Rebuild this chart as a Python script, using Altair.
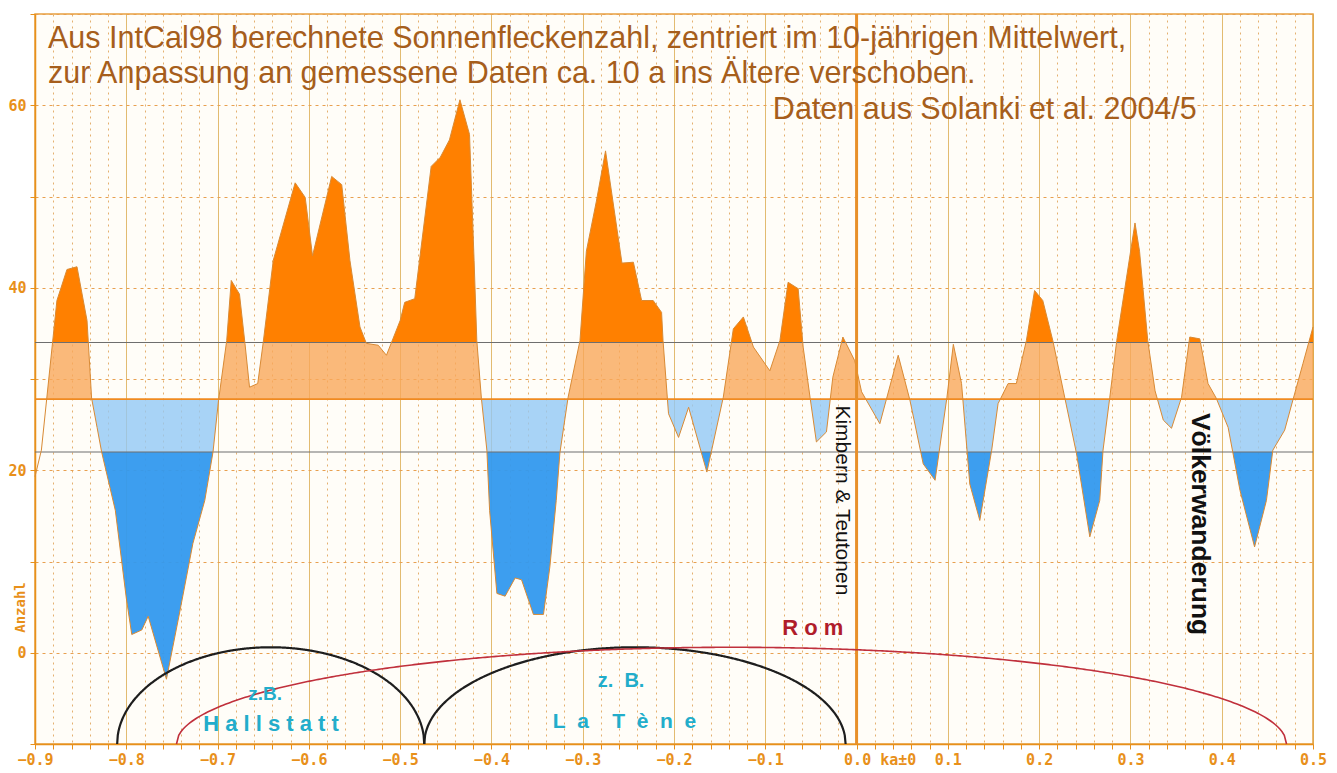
import altair as alt
import pandas as pd

# ---------------- data ----------------
ka = [-0.900, -0.893, -0.876, -0.865, -0.854, -0.843, -0.838, -0.832, -0.827,
      -0.812, -0.800, -0.794, -0.783, -0.776, -0.756, -0.741, -0.727, -0.714, -0.705,
      -0.699, -0.690, -0.685, -0.676, -0.670, -0.665, -0.656, -0.650, -0.639, -0.615,
      -0.604, -0.596, -0.575, -0.564, -0.555, -0.544, -0.537, -0.524, -0.515, -0.500,
      -0.495, -0.484, -0.466, -0.456, -0.446, -0.4345, -0.424, -0.419, -0.416, -0.411,
      -0.405, -0.402, -0.394, -0.385, -0.374, -0.367, -0.354, -0.343, -0.336, -0.329,
      -0.325, -0.316, -0.303, -0.296, -0.285, -0.275, -0.257, -0.2445, -0.2355, -0.2228,
      -0.2136, -0.212, -0.206, -0.195, -0.184, -0.164, -0.146, -0.135, -0.124, -0.113,
      -0.095, -0.084, -0.075, -0.064, -0.0585, -0.051, -0.044, -0.033, -0.026, -0.015,
      -0.002, 0.0055, 0.0255, 0.0456, 0.0584, 0.073, 0.086, 0.099, 0.106, 0.115,
      0.124, 0.135, 0.148, 0.155, 0.166, 0.175, 0.186, 0.195, 0.204, 0.215,
      0.228, 0.241, 0.2555, 0.2664, 0.270, 0.2774, 0.285, 0.305, 0.310, 0.319,
      0.327, 0.336, 0.345, 0.356, 0.365, 0.376, 0.385, 0.394, 0.407, 0.420,
      0.436, 0.449, 0.456, 0.469, 0.478, 0.489, 0.500]
sunspots = [19.3, 22.2, 38.6, 42.0, 42.3, 36.4, 27.9, 24.7, 22.0,
            15.6, 6.0, 2.0, 2.5, 4.0, -2.9, 4.7, 12.0, 16.7, 22.0,
            27.6, 34.2, 40.8, 39.3, 33.9, 29.1, 29.5, 34.0, 43.0, 51.5,
            49.9, 43.5, 52.2, 51.3, 43.0, 35.7, 33.9, 33.7, 32.6, 36.4,
            38.4, 38.8, 53.3, 54.3, 56.2, 60.6, 56.8, 43.0, 34.2, 27.9,
            22.2, 15.6, 6.5, 6.2, 8.2, 8.0, 4.2, 4.2, 9.4, 16.7,
            21.9, 28.0, 34.2, 44.0, 49.5, 55.0, 42.7, 42.8, 38.6, 38.6,
            37.3, 34.2, 26.2, 23.6, 26.9, 19.8, 28.0, 35.5, 36.8, 33.5,
            30.9, 34.2, 40.6, 39.9, 33.5, 28.0, 23.1, 24.2, 30.2, 34.6,
            32.0, 28.6, 25.1, 32.6, 27.7, 20.7, 18.9, 28.0, 33.8, 29.5,
            18.5, 14.5, 22.2, 27.3, 29.5, 29.5, 34.2, 39.7, 38.6, 34.2,
            28.0, 21.8, 12.7, 16.7, 22.2, 28.0, 34.2, 47.1, 44.0, 34.2,
            28.7, 25.5, 24.6, 28.0, 34.6, 34.4, 29.5, 27.9, 24.7, 17.8,
            11.6, 16.7, 22.2, 24.4, 27.7, 31.7, 35.7]

MEAN = 27.8     # orange reference line
UPPER = 34.0    # grey line above
LOWER = 22.0    # grey line below
FILL_START = -0.888   # the coloured fill begins where the curve first reaches the mean

x_ticks = [round(-0.9 + 0.02 * i, 2) for i in range(71)]
y_ticks = list(range(-10, 71, 10))

# periods drawn as arcs: name, start, end, height above the bottom
period_names = ["Hallstatt", "La Tène", "Rom"]
period_start = [-0.810, -0.4736, -0.745]
period_end = [-0.4736, -0.012, 0.471]
period_height = [10.6, 10.6, 10.6]
period_color = ["#1e1e1e", "#1e1e1e", "#c0303c"]
period_width = [2.2, 2.2, 1.6]

title_lines = ["Aus IntCal98 berechnete Sonnenfleckenzahl, zentriert im 10-jährigen Mittelwert,",
               "zur Anpassung an gemessene Daten ca. 10 a ins Ältere verschoben.",
               "Daten aus Solanki et al. 2004/5"]
title_x = [-0.8858, -0.8858, -0.0917]
title_y = [66.3, 62.4, 58.5]

NB = "\u00a0"
cyan_texts = ["z.B.", "H a l l s t a t t", f"z.{NB}{NB}B.",
              f"L{NB}{NB}a{NB}{NB}{NB}{NB}T{NB}{NB}è{NB}{NB}n{NB}{NB}e"]
cyan_x = [-0.648, -0.6415, -0.258, -0.2543]
cyan_y = [-5.2, -8.6, -3.8, -8.2]
cyan_size = [19, 22, 20, 21]

# ---------------- chart ----------------
df = pd.DataFrame({"ka": ka, "n": sunspots})
xs = alt.Scale(domain=[-0.9, 0.5], nice=False, zero=False)
ys = alt.Scale(domain=[-10, 70], nice=False, zero=False)

ORANGE = "#E8901A"
LABEL_FONT = "DejaVu Sans Mono, monospace"
MAJOR = "abs(datum.value*10 - round(datum.value*10)) < 0.001"
ZERO = "abs(datum.value) < 0.001"

x_axis = alt.Axis(
    values=x_ticks,
    labelExpr=f"{MAJOR} ? ({ZERO} ? '0.0 ka±0' : format(datum.value, '.1f')) : ''",
    labelAlign={"condition": {"test": ZERO, "value": "left"}, "value": "center"},
    labelOffset={"condition": {"test": ZERO, "value": -13}, "value": 0},
    grid=True,
    gridColor={"condition": {"test": MAJOR, "value": "#D9A444"}, "value": "#E4B070"},
    gridDash={"condition": {"test": MAJOR, "value": [1, 0]}, "value": [2, 4]},
    gridWidth=1,
    tickColor=ORANGE, tickSize=5, domainColor=ORANGE, domainWidth=1.5,
    labelColor=ORANGE, labelFont=LABEL_FONT, labelFontSize=15, labelFontWeight="bold",
    labelPadding=3, labelOverlap=False, labelFlush=False, title=None,
)
y_axis = alt.Axis(
    values=y_ticks,
    labelExpr="(datum.value >= 0 && datum.value <= 60 && datum.value % 20 == 0) ? datum.value : ''",
    grid=True, gridColor="#E8A050", gridDash=[3, 4], gridWidth=1,
    tickColor=ORANGE, tickSize=5, domainColor=ORANGE, domainWidth=1.5,
    labelColor=ORANGE, labelFont=LABEL_FONT, labelFontSize=15, labelFontWeight="bold",
    labelPadding=4, labelOverlap=False, labelFlush=False,
    title="Anzahl", titleColor=ORANGE, titleFont=LABEL_FONT, titleFontSize=14,
    titleFontWeight="bold", titleAngle=270, titleX=-15, titleY=593,
    titleAlign="center", titleBaseline="middle",
)


def X(field):
    return alt.X(field, type="quantitative", scale=xs, axis=x_axis)


def Y(field):
    return alt.Y(field, type="quantitative", scale=ys, axis=y_axis)


base = alt.Chart(df)

# add the exact crossing points of the (linear) curve with the three levels,
# so that each colour band follows the curve exactly
cross = "(datum.n2 != null && (datum.n - {L})*(datum.n2 - {L}) < 0) ? datum.ka + ({L} - datum.n)/(datum.n2 - datum.n)*(datum.ka2 - datum.ka) : null"
fill_base = (
    base.transform_window(ka2="lead(ka)", n2="lead(n)", sort=[alt.SortField("ka")])
    .transform_calculate(
        p0="datum.ka",
        cm=cross.format(L=MEAN),
        cu=cross.format(L=UPPER),
        cl=cross.format(L=LOWER),
    )
    .transform_fold(["p0", "cm", "cu", "cl"], as_=["kind", "xx"])
    .transform_filter("datum.xx != null")
    .transform_filter(f"datum.xx >= {FILL_START}")
    .transform_calculate(
        yy=f"datum.kind == 'p0' ? datum.n : (datum.kind == 'cm' ? {MEAN} : (datum.kind == 'cu' ? {UPPER} : {LOWER}))"
    )
)


def band(expr_top, base_val, color, opacity):
    return fill_base.transform_calculate(top=expr_top, bot=str(base_val)).mark_area(
        color=color, opacity=opacity, interpolate="linear"
    ).encode(x=X("xx"), y=Y("top"), y2="bot:Q")


dark_orange = band(f"max(datum.yy, {UPPER})", UPPER, "#FF8000", 1.0)
light_orange = band(f"min(max(datum.yy, {MEAN}), {UPPER})", MEAN, "#F9A85A", 0.8)
light_blue = band(f"max(min(datum.yy, {MEAN}), {LOWER})", MEAN, "#92C8F5", 0.8)
dark_blue = band(f"min(datum.yy, {LOWER})", LOWER, "#3399EE", 0.95)

outline = base.mark_line(color="#D98A34", strokeWidth=1).encode(x=X("ka"), y=Y("n"))

hlines_df = pd.DataFrame({"y": [UPPER, LOWER, MEAN],
                          "c": ["#6e6e6e", "#6e6e6e", "#F08A20"],
                          "w": [1.2, 1.2, 1.6]})
hlines = alt.Chart(hlines_df).mark_rule().encode(
    y=Y("y"),
    color=alt.Color("c:N", scale=None),
    strokeWidth=alt.StrokeWidth("w:Q", scale=None),
)

zero_line = alt.Chart(pd.DataFrame({"x": [0.0]})).mark_rule(
    color="#E8902A", strokeWidth=3
).encode(x=X("x"))

arcs = []
for name, s, e, h, c, w in zip(period_names, period_start, period_end, period_height,
                               period_color, period_width):
    arcs.append(
        alt.Chart(alt.sequence(0, 1.0001, 0.002, as_="t"))
        .transform_calculate(
            x=f"{s} + ({e} - ({s})) * datum.t",
            y=f"-10 + {h} * sqrt(max(0, 1 - pow(2 * datum.t - 1, 2)))",
        )
        .mark_line(color=c, strokeWidth=w)
        .encode(x=X("x"), y=Y("y"), order="t:Q")
    )

TITLE_COLOR = "#A65E1C"
titles = alt.Chart(pd.DataFrame({"t": title_lines, "x": title_x, "y": title_y})).mark_text(
    align="left", baseline="alphabetic", font="Liberation Sans", fontSize=30.5,
    color=TITLE_COLOR
).encode(x=X("x"), y=Y("y"), text="t:N")

cyan = alt.Chart(pd.DataFrame({"t": cyan_texts, "x": cyan_x, "y": cyan_y, "s": cyan_size})).mark_text(
    align="center", baseline="alphabetic", font="Liberation Sans", fontWeight="bold",
    color="#22ADCB"
).encode(x=X("x"), y=Y("y"), text="t:N", size=alt.Size("s:Q", scale=None))

rom = alt.Chart(pd.DataFrame({"t": ["R o m"], "x": [-0.048], "y": [2.0]})).mark_text(
    align="center", baseline="alphabetic", font="Liberation Sans", fontWeight="bold",
    fontSize=22, color="#B01C2A"
).encode(x=X("x"), y=Y("y"), text="t:N")

kimbern = alt.Chart(pd.DataFrame({"t": ["Kimbern & Teutonen"], "x": [-0.0161], "y": [16.7]})).mark_text(
    align="center", baseline="middle", angle=90, font="Liberation Sans", fontSize=21,
    color="#111111"
).encode(x=X("x"), y=Y("y"), text="t:N")

voelker = alt.Chart(pd.DataFrame({"t": ["Völkerwanderung"], "x": [0.376], "y": [14.1]})).mark_text(
    align="center", baseline="middle", angle=90, font="Liberation Sans", fontSize=26.5,
    fontWeight="bold", color="#111111"
).encode(x=X("x"), y=Y("y"), text="t:N")

chart = alt.layer(
    dark_orange, light_orange, light_blue, dark_blue, hlines, outline, zero_line,
    *arcs, titles, cyan, rom, kimbern, voelker
).properties(
    width=1278, height=730,
    autosize=alt.AutoSizeParams(type="none"),
    padding={"left": 27, "top": 6, "right": 14, "bottom": 26},
    background="white",
).configure_view(stroke="#E8A040", strokeWidth=1.5, fill="#FFFDF8")

chart.save("out.html", embed_options={"renderer": "svg", "actions": False})
